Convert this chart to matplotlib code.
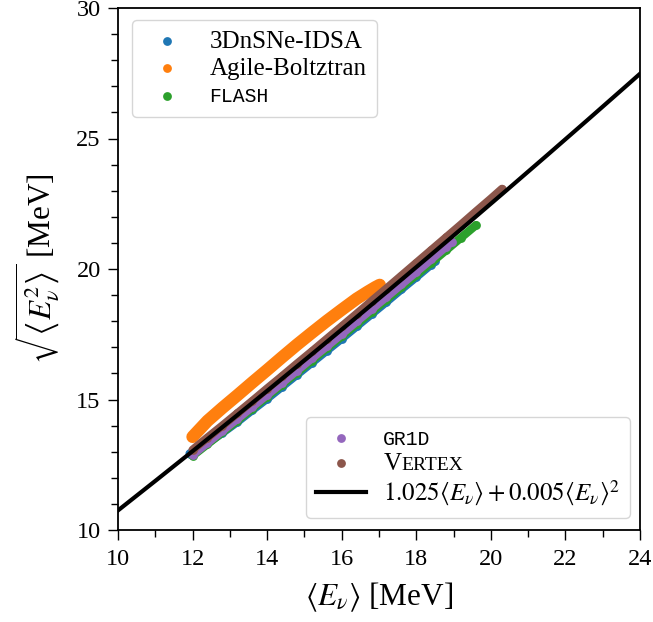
import matplotlib
matplotlib.use('Agg')
import matplotlib.pyplot as plt
from matplotlib.transforms import IdentityTransform
from matplotlib.ticker import MultipleLocator
import numpy as np

plt.rcParams['font.family'] = ['Liberation Serif', 'DejaVu Serif']
plt.rcParams['mathtext.fontset'] = 'stix'

# ---- data ----
idsa_x = [11.92, 12.4, 12.8, 13.2, 13.6, 14.0, 14.4, 14.8, 15.2, 15.6, 16.0, 16.4, 16.8, 17.2, 17.6, 18.0, 18.4, 18.5]
idsa_y = [12.93, 13.33, 13.72, 14.14, 14.59, 15.03, 15.49, 15.95, 16.41, 16.87, 17.33, 17.80, 18.27, 18.74, 19.22, 19.69, 20.17, 20.29]

agile_x = [12.0, 12.4, 12.8, 13.2, 13.6, 14.0, 14.4, 14.8, 15.2, 15.6, 16.0, 16.4, 16.7, 16.9, 17.02]
agile_y = [13.57, 14.18, 14.68, 15.16, 15.65, 16.13, 16.62, 17.10, 17.56, 18.01, 18.44, 18.86, 19.13, 19.30, 19.39]

flash_x = [12.0, 12.4, 12.8, 13.2, 13.6, 14.0, 14.4, 14.8, 15.2, 15.6, 16.0, 16.4, 16.8, 17.2, 17.6, 18.0, 18.4, 18.8, 19.2, 19.6]
flash_y = [12.84, 13.29, 13.74, 14.19, 14.65, 15.11, 15.57, 16.03, 16.49, 16.96, 17.42, 17.89, 18.35, 18.83, 19.30, 19.77, 20.24, 20.72, 21.20, 21.68]

gr1d_x = [12.0, 12.4, 12.8, 13.2, 13.6, 14.0, 14.4, 14.8, 15.2, 15.6, 16.0, 16.4, 16.8, 17.2, 17.6, 18.0, 18.4, 18.8, 18.95]
gr1d_y = [12.88, 13.34, 13.80, 14.26, 14.72, 15.18, 15.64, 16.11, 16.58, 17.04, 17.51, 17.99, 18.46, 18.93, 19.41, 19.89, 20.37, 20.86, 21.04]

vertex_x = [12.0, 12.4, 12.8, 13.2, 13.6, 14.0, 14.4, 14.8, 15.2, 15.6, 16.0, 16.4, 16.8, 17.2, 17.6, 18.0, 18.4, 18.8, 19.2, 19.6, 20.0, 20.3]
vertex_y = [13.07, 13.54, 14.00, 14.47, 14.94, 15.42, 15.89, 16.37, 16.84, 17.32, 17.80, 18.28, 18.77, 19.25, 19.74, 20.23, 20.72, 21.21, 21.70, 22.20, 22.69, 23.07]

fit_a = 1.025
fit_b = 0.005
fit_range = [10, 24]

series = [
    ('3DnSNe-IDSA', idsa_x, idsa_y, '#1f77b4', 6.0),
    ('Agile-Boltztran', agile_x, agile_y, '#ff7f0e', 9.0),
    ('FLASH', flash_x, flash_y, '#2ca02c', 6.0),
    ('GR1D', gr1d_x, gr1d_y, '#9467bd', 6.0),
    ('V', vertex_x, vertex_y, '#8c564b', 6.0),
]

LEGFS = 18

fig = plt.figure(figsize=(6.53, 6.22), dpi=100)
ax = fig.add_axes([118/653, 92/622, 522/653, 522/622])

handles = []
for i, (lab, xs, ys, col, lw) in enumerate(series):
    ax.plot(xs, ys, '-', color=col, lw=lw, solid_capstyle='round', solid_joinstyle='round', zorder=2 + i * 0.1)
    h = ax.scatter(xs, ys, s=40, color=col, label=lab, zorder=2 + i * 0.1, linewidths=0)
    handles.append(h)

fx = np.linspace(fit_range[0], fit_range[1], 300)
fline, = ax.plot(fx, fit_a * fx + fit_b * fx**2, color='black', lw=3, zorder=3,
                 label=r'$1.025\langle E_\nu\rangle + 0.005\langle E_\nu\rangle^2$')

ax.set_xlim(10, 24)
ax.set_ylim(10, 30)
ax.xaxis.set_major_locator(MultipleLocator(2))
ax.xaxis.set_minor_locator(MultipleLocator(1))
ax.yaxis.set_major_locator(MultipleLocator(5))
ax.yaxis.set_minor_locator(MultipleLocator(1))
ax.tick_params(which='major', direction='out', length=7.5, width=1, labelsize=17.5)
ax.tick_params(which='minor', direction='out', length=4.8, width=1)
ax.tick_params(axis='x', which='major', pad=6)
ax.tick_params(axis='y', which='major', pad=5)
for sp in ax.spines.values():
    sp.set_linewidth(1.3)

ax.set_xlabel(r'$\langle E_\nu\rangle$ [MeV]', fontsize=22.5, labelpad=8)
ax.set_ylabel(r'$\sqrt{\left\langle E_\nu^2\right\rangle}$ [MeV]', fontsize=22.5, labelpad=10)

leg1 = ax.legend(handles=handles[:3], loc='upper left', bbox_to_anchor=(14/522, 1 - 12/522),
                 borderaxespad=0, fontsize=LEGFS, labelspacing=0.2, handletextpad=0.7)
ax.add_artist(leg1)
leg2 = ax.legend(handles=[handles[3], handles[4], fline], loc='lower right',
                 bbox_to_anchor=(1 - 10/522, 12/522), borderaxespad=0, fontsize=LEGFS,
                 labelspacing=0.15, handletextpad=0.7)
for leg in (leg1, leg2):
    for t in leg.get_texts():
        if t.get_text() in ('FLASH', 'GR1D'):
            t.set_fontfamily('Liberation Mono')
            t.set_fontsize(14.2)

fig.canvas.draw()
renderer = fig.canvas.get_renderer()
vt = leg2.get_texts()[1]
bb = vt.get_window_extent(renderer)
_, _, d = renderer.get_text_width_height_descent('lp', vt.get_fontproperties(), ismath=False)
fig.text(bb.x1 + 0.5, bb.y0 + d, 'ERTEX', transform=IdentityTransform(),
         fontsize=LEGFS * 0.78, va='baseline', ha='left', zorder=10)

fig.savefig('out.png', dpi=100)
